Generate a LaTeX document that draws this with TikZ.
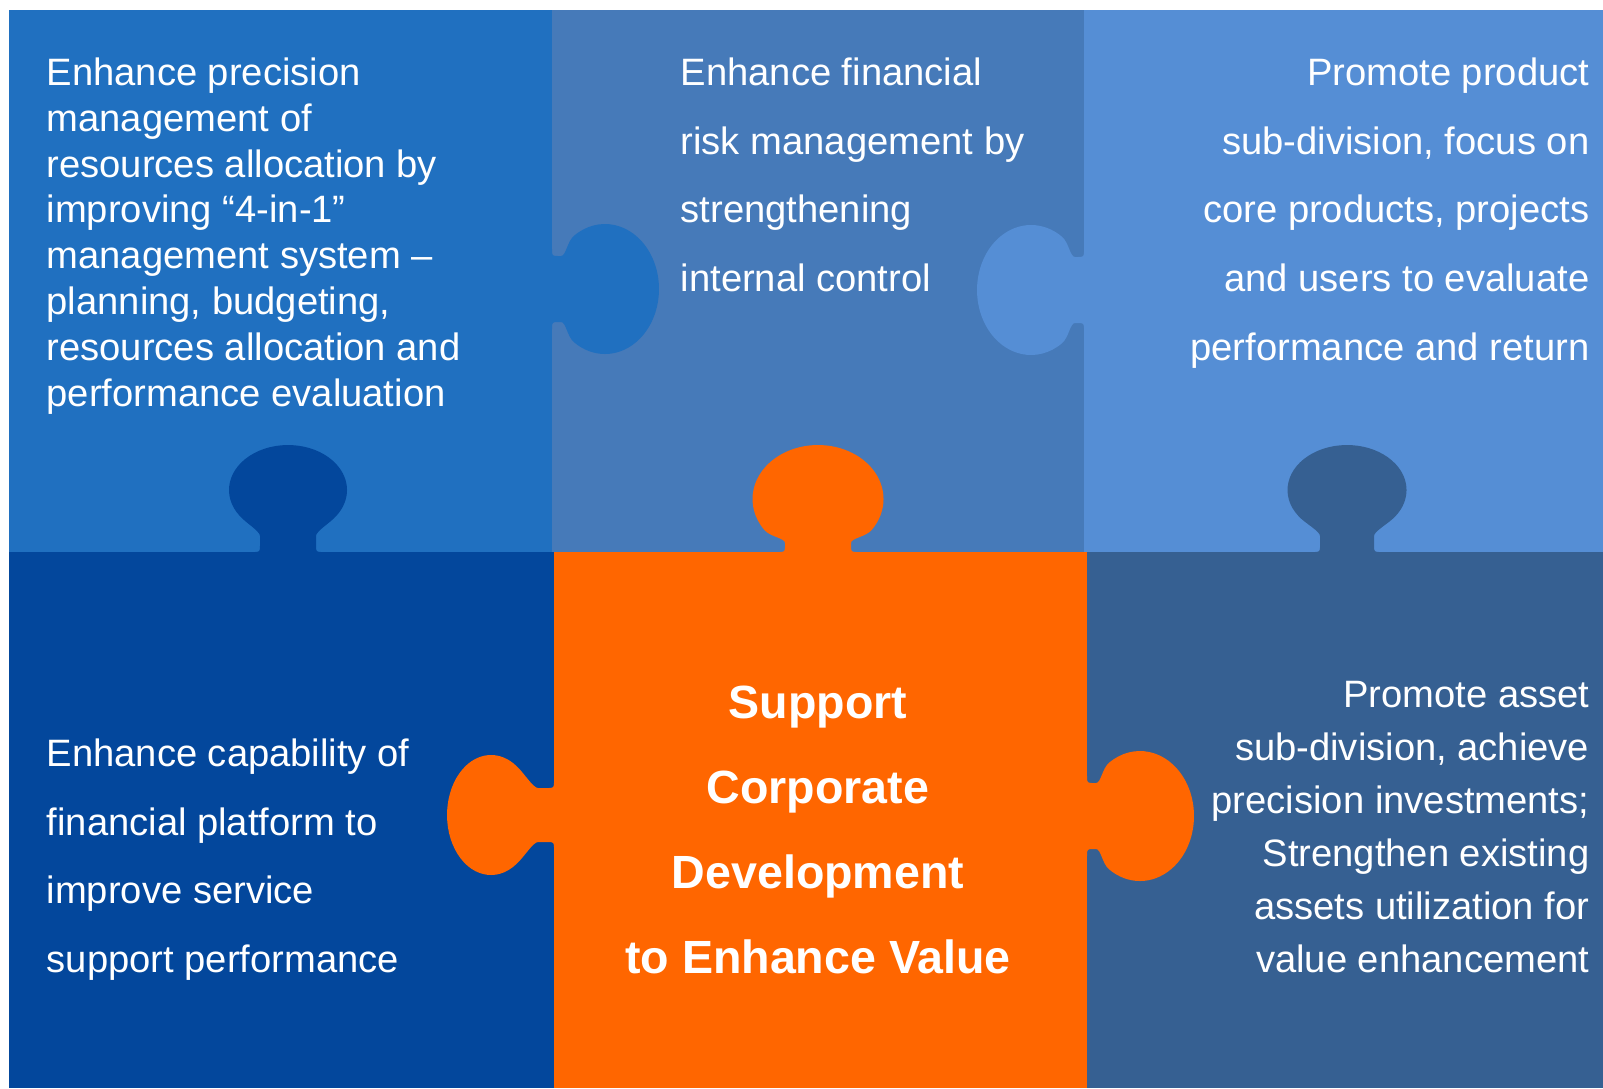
\documentclass[tikz,border=0pt]{standalone}
\usepackage{fontspec}
\setmainfont{Liberation Sans}
\definecolor{tlblue}{HTML}{2070C0}
\definecolor{tmblue}{HTML}{467AB9}
\definecolor{trblue}{HTML}{558ED5}
\definecolor{blblue}{HTML}{03479C}
\definecolor{corange}{HTML}{FF6600}
\definecolor{brblue}{HTML}{366092}
\tikzset{
	goaltext/.style={text=white, inner sep=0pt, font=\fontsize{10.86}{19.55}\selectfont},
}
\begin{document}
\begin{tikzpicture}
	% Hintergrund
	\fill[white] (0,0) rectangle (16.03,-10.88);
	% Puzzleteile
	\fill[tlblue] (0.09,-0.10) rectangle (5.52,-5.52);
	\fill[tmblue] (5.52,-0.10) rectangle (10.84,-5.52);
	\fill[trblue] (10.84,-0.10) rectangle (16.03,-5.52);
	\fill[blblue] (0.09,-5.52) rectangle (5.54,-10.88);
	\fill[corange] (5.54,-5.52) rectangle (10.87,-10.88);
	\fill[brblue] (10.87,-5.52) rectangle (16.03,-10.88);
	% Nasen
	\foreach \x/\y/\r/\w/\n/\hc/\hn/\col in {2.88/-5.52/0/0.59/0.28/0.62/0.16/blblue,
		8.18/-5.52/0/0.655/0.33/0.53/0.09/corange,
		13.47/-5.52/0/0.595/0.27/0.62/0.16/brblue,
		5.52/-2.89/-90/0.65/0.33/0.53/0.09/tlblue,
		10.84/-2.90/90/0.65/0.33/0.53/0.09/trblue,
		5.54/-8.15/90/0.60/0.27/0.63/0.16/corange,
		10.87/-8.16/-90/0.65/0.33/0.53/0.09/corange}
	{
		\pgfmathsetmacro{\ry}{1.07-\hc}
		\pgfmathsetmacro{\qx}{0.819*\w}
		\pgfmathsetmacro{\py}{\hc-0.574*\ry}
		\begin{scope}[shift={(\x,\y)}, rotate=\r]
			\fill[\col] (-\n-0.07,-0.03) -- (-\n-0.07,0) .. controls (-\n,0) .. (-\n,0.07)
				-- (-\n,\hn) .. controls (-\n,\hn+0.05) and (-\qx+0.06,\py-0.07) .. (-\qx,\py)
				arc[start angle=215, end angle=-35, x radius=\w, y radius=\ry]
				.. controls (\qx-0.06,\py-0.07) and (\n,\hn+0.05) .. (\n,\hn)
				-- (\n,0.07) .. controls (\n,0) .. (\n+0.07,0) -- (\n+0.07,-0.03) -- cycle;
		\end{scope}
	}
	% Texte
	\node[goaltext, anchor=north west, align=left, font=\fontsize{10.86}{13.05}\selectfont] (precision) at (0.46,-0.57)
		{Enhance precision\\management of\\resources allocation by\\improving “4-in-1”\\management system –\\planning, budgeting,\\resources allocation and\\performance evaluation};
	\node[goaltext, anchor=north west, align=left] (risk) at (6.80,-0.57)
		{Enhance financial\\risk management by\\strengthening\\internal control};
	\node[goaltext, anchor=north east, align=right] (product) at (15.90,-0.57)
		{Promote product\\sub-division, focus on\\core products, projects\\and users to evaluate\\performance and return};
	\node[goaltext, anchor=north west, align=left] (platform) at (0.46,-7.38)
		{Enhance capability of\\financial platform to\\improve service\\support performance};
	\node[goaltext, anchor=north east, align=right, font=\fontsize{10.86}{15.08}\selectfont] (asset) at (15.90,-6.81)
		{Promote asset\\sub-division, achieve\\precision investments;\\Strengthen existing\\assets utilization for\\value enhancement};
	\node[goaltext, anchor=north, align=center, font=\fontsize{13.25}{24.2}\selectfont\bfseries] (value) at (8.18,-6.85)
		{Support\\Corporate\\Development\\to Enhance Value};
\end{tikzpicture}
\end{document}
